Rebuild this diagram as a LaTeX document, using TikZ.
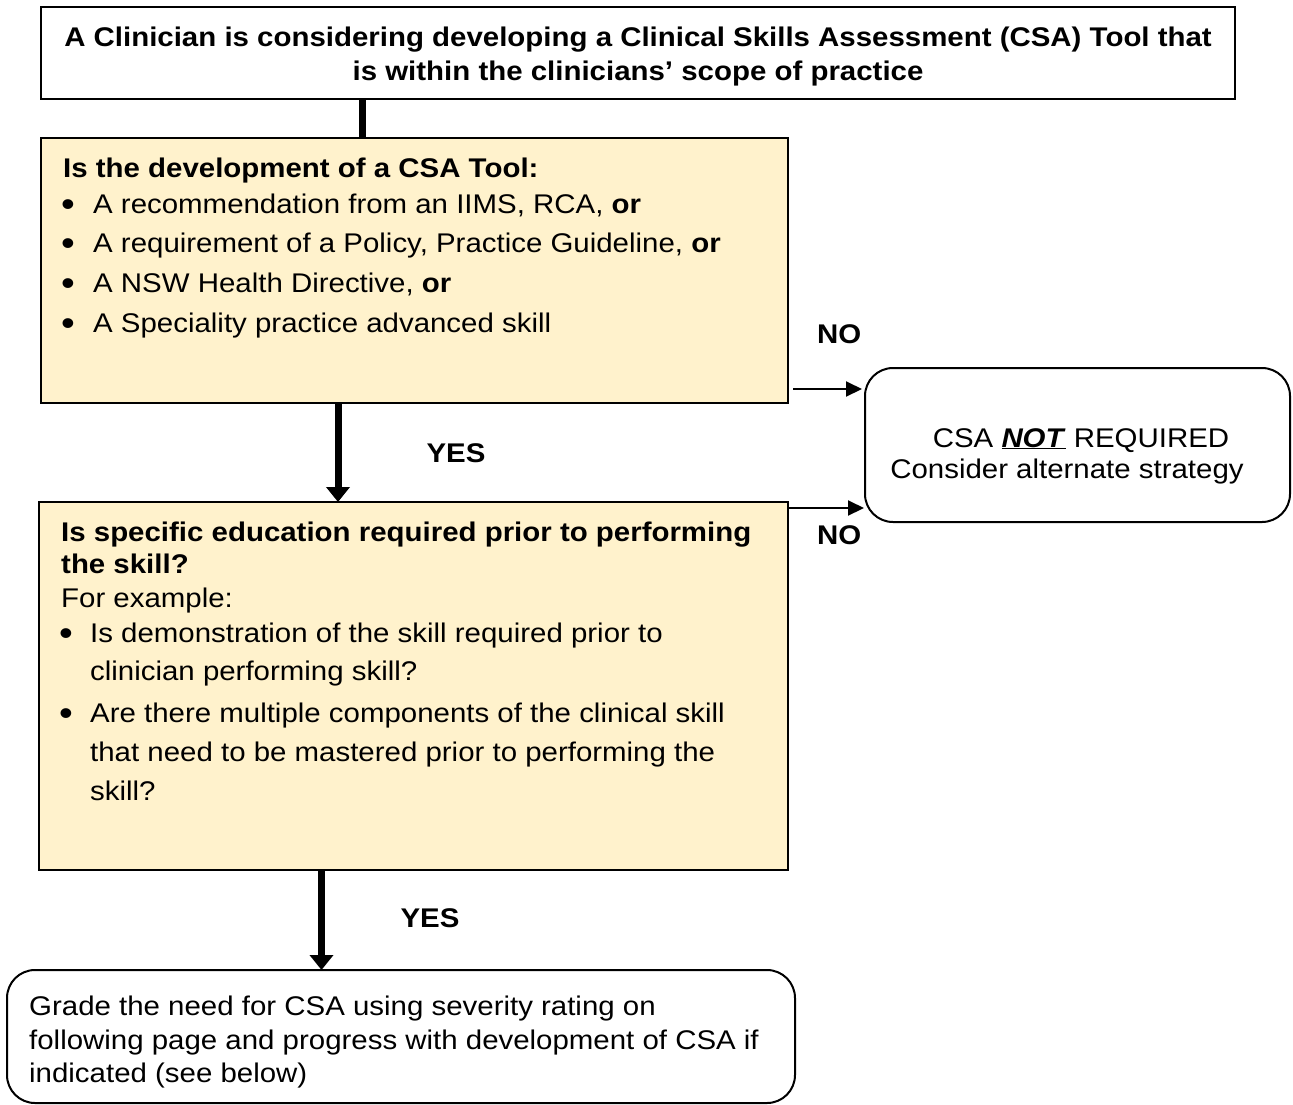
\documentclass[tikz,border=0pt]{standalone}
\usepackage{fontspec}
\setmainfont{Liberation Sans}[FakeStretch=1.09]
\usetikzlibrary{arrows.meta}
\definecolor{qfill}{HTML}{FFF2CC}
\begin{document}
\begin{tikzpicture}[x=1pt,y=-1pt,
  txt/.style={anchor=base west, inner sep=0pt, font=\fontsize{27}{33}\selectfont},
  ctxt/.style={anchor=base, inner sep=0pt, font=\fontsize{27}{33}\selectfont},
  bul/.style={anchor=base west, inner sep=0pt, font=\fontsize{36}{36}\selectfont},
  plainbox/.style={draw=black, line width=2pt, fill=white, inner sep=0pt, outer sep=0pt, anchor=north west},
  qbox/.style={plainbox, fill=qfill},
  roundbox/.style={plainbox, rounded corners=28pt},
  bigline/.style={line width=7pt},
  bigarrow/.style={line width=7pt, -{Triangle[width=23pt,length=15pt]}},
  smallarrow/.style={line width=2pt, -{Triangle[width=15pt,length=16pt]}}]
\useasboundingbox (0,0) rectangle (1293,1104);

% boxes
\node[plainbox, minimum width=1194pt, minimum height=92pt] (top) at (41,7) {};
\node[qbox, minimum width=747pt, minimum height=265pt] (q1) at (41,138) {};
\node[qbox, minimum width=749pt, minimum height=368pt] (q2) at (39,502) {};
\node[roundbox, minimum width=788pt, minimum height=133pt] (grade) at (7,970) {};
\node[roundbox, minimum width=425pt, minimum height=154pt] (notreq) at (865,368) {};

% top text
\node[ctxt] (t1) at (638,46) {\bfseries A Clinician is considering developing a Clinical Skills Assessment (CSA) Tool that};
\node[ctxt] (t2) at (638,80) {\bfseries is within the clinicians’ scope of practice};

% question 1
\node[txt] (q1h) at (63,177) {\bfseries Is the development of a CSA Tool:};
\node[bul] (q1b1) at (61,216) {•};
\node[txt] (q1l1) at (93,213) {A recommendation from an IIMS, RCA, \textbf{or}};
\node[bul] (q1b2) at (61,255) {•};
\node[txt] (q1l2) at (93,252) {A requirement of a Policy, Practice Guideline, \textbf{or}};
\node[bul] (q1b3) at (61,295) {•};
\node[txt] (q1l3) at (93,292) {A NSW Health Directive, \textbf{or}};
\node[bul] (q1b4) at (61,335) {•};
\node[txt] (q1l4) at (93,332) {A Speciality practice advanced skill};

% question 2
\node[txt] (q2h1) at (61,541) {\bfseries Is specific education required prior to performing};
\node[txt] (q2h2) at (61,573) {\bfseries the skill?};
\node[txt] (q2h3) at (61,607) {For example:};
\node[bul] (q2b1) at (59,645) {•};
\node[txt] (q2l1) at (90,642) {Is demonstration of the skill required prior to};
\node[txt] (q2l2) at (90,680) {clinician performing skill?};
\node[bul] (q2b2) at (59,725) {•};
\node[txt] (q2l3) at (90,722) {Are there multiple components of the clinical skill};
\node[txt] (q2l4) at (90,761) {that need to be mastered prior to performing the};
\node[txt] (q2l5) at (90,800) {skill?};

% grade box text
\node[txt] (g1) at (29,1015) {Grade the need for CSA using severity rating on};
\node[txt] (g2) at (29,1049) {following page and progress with development of CSA if};
\node[txt] (g3) at (29,1082) {indicated (see below)};

% not required text
\node[ctxt] (n1) at (1081,447) {CSA \underline{\textbf{\textit{NOT}}} REQUIRED};
\node[ctxt] (n2) at (1067,478) {Consider alternate strategy};

% labels
\node[ctxt] (yes1) at (456,462) {\bfseries YES};
\node[ctxt] (yes2) at (430,927) {\bfseries YES};
\node[txt] (no1) at (817,343) {\bfseries NO};
\node[txt] (no2) at (817,544) {\bfseries NO};

% connectors
\draw[bigline] (362.5,0 |- top.south) -- (362.5,0 |- q1.north);
\draw[bigarrow] (338,0 |- q1.south) -- (338,0 |- q2.north);
\draw[bigarrow] (321.5,0 |- q2.south) -- (321.5,0 |- grade.north);
\draw[smallarrow] ([xshift=5pt]q1.east |- 0,389) -- ([xshift=-3pt]notreq.west |- 0,389);
\draw[smallarrow] (q2.east |- 0,508) -- ([xshift=-1pt]notreq.west |- 0,508);
\end{tikzpicture}
\end{document}
